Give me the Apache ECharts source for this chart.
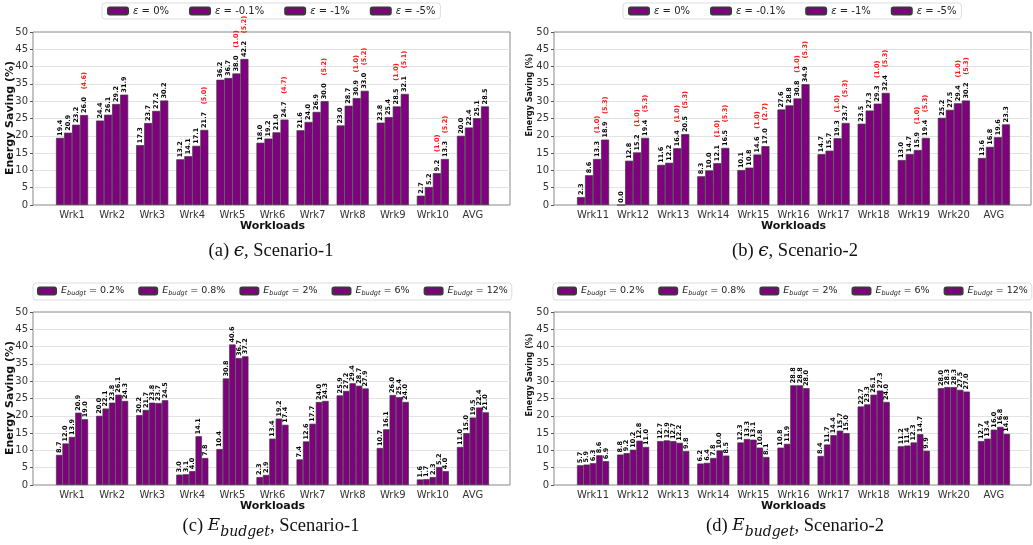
<!DOCTYPE html>
<html>
<head>
<meta charset="utf-8">
<script src="https://cdn.jsdelivr.net/npm/echarts@6/dist/echarts.min.js"></script>
<style>
  html, body { margin: 0; padding: 0; background: #fff; }
  #chart { width: 1033px; height: 545px; }
</style>
</head>
<body>
<div id="chart"></div>
<script>
// categories
const workloadsS1 = ['Wrk1', 'Wrk2', 'Wrk3', 'Wrk4', 'Wrk5', 'Wrk6', 'Wrk7', 'Wrk8', 'Wrk9', 'Wrk10', 'AVG']
const workloadsS2 = ['Wrk11', 'Wrk12', 'Wrk13', 'Wrk14', 'Wrk15', 'Wrk16', 'Wrk17', 'Wrk18', 'Wrk19', 'Wrk20', 'AVG']
const epsNames = ['ε = 0%', 'ε = -0.1%', 'ε = -1%', 'ε = -5%']
const budgetNames = ['Ebudgt = 0.2%', 'Ebudgt = 0.8%', 'Ebudgt = 2%', 'Ebudgt = 6%', 'Ebudgt = 12%']
const yTicks = [0, 50, 5] // min, max, interval

// (a) epsilon, scenario-1
const epsS1_0 = [19.4, 24.4, 17.3, 13.2, 36.2, 18.0, 21.6, 23.0, 23.8, 2.7, 20.0]
const epsS1_01 = [20.9, 26.1, 23.7, 14.1, 36.7, 19.2, 24.0, 28.7, 25.4, 5.2, 22.4]
const epsS1_1 = [23.2, 29.2, 27.2, 17.1, 38.0, 21.0, 26.9, 30.9, 28.5, 9.2, 25.1]
const epsS1_5 = [26.0, 31.9, 30.2, 21.7, 42.2, 24.7, 30.0, 33.0, 32.1, 13.3, 28.5]
const epsS1Note1 = [null, null, null, null, 1.0, null, null, 1.0, 1.0, 1.0, null]
const epsS1Note5 = [4.6, null, null, 5.0, 5.2, 4.7, 5.2, 5.2, 5.1, 5.2, null]

// (b) epsilon, scenario-2
const epsS2_0 = [2.3, 0.0, 11.6, 8.3, 10.1, 27.6, 14.7, 23.5, 13.0, 25.2, 13.6]
const epsS2_01 = [8.6, 12.8, 12.2, 10.0, 10.8, 28.8, 15.7, 27.3, 14.7, 27.5, 16.8]
const epsS2_1 = [13.3, 15.2, 16.4, 12.1, 14.6, 30.8, 19.3, 29.3, 15.9, 29.4, 19.6]
const epsS2_5 = [18.9, 19.4, 20.5, 16.5, 17.0, 34.9, 23.7, 32.4, 19.4, 30.2, 23.3]
const epsS2Note1 = [1.0, 1.0, 1.0, 1.0, 1.0, 1.0, 1.0, 1.0, 1.0, 1.0, null]
const epsS2Note5 = [5.3, 5.3, 5.3, 5.3, 2.7, 5.3, 5.3, 5.3, 5.3, 5.3, null]

// (c) E_budget, scenario-1
const budS1_02 = [8.7, 20.0, 20.2, 3.0, 10.4, 2.3, 7.4, 25.9, 10.7, 1.6, 11.0]
const budS1_08 = [12.0, 22.1, 21.7, 3.1, 30.8, 2.9, 12.6, 27.2, 16.1, 1.7, 15.0]
const budS1_2 = [13.9, 23.8, 23.8, 4.0, 40.6, 13.4, 17.7, 29.4, 26.0, 2.3, 19.5]
const budS1_6 = [20.9, 26.1, 23.7, 14.1, 36.7, 19.2, 24.0, 28.7, 25.4, 5.2, 22.4]
const budS1_12 = [19.0, 24.3, 24.5, 7.8, 37.2, 17.4, 24.3, 27.9, 24.0, 4.0, 21.0]

// (d) E_budget, scenario-2
const budS2_02 = [5.7, 8.8, 12.7, 6.2, 12.3, 10.8, 8.4, 22.7, 11.2, 28.0, 12.7]
const budS2_08 = [5.9, 9.2, 12.9, 6.4, 13.3, 11.9, 11.7, 23.3, 11.4, 28.3, 13.4]
const budS2_2 = [6.3, 10.2, 12.7, 7.8, 13.1, 28.8, 14.4, 26.1, 12.3, 28.3, 16.0]
const budS2_6 = [8.6, 12.8, 12.2, 10.0, 10.8, 28.8, 15.7, 27.3, 14.7, 27.5, 16.8]
const budS2_12 = [6.9, 11.0, 9.8, 8.5, 8.1, 28.0, 15.0, 24.0, 9.9, 27.0, 14.8]

const PURPLE = '#800080'
const chart = echarts.init(document.getElementById('chart'))

const panels = [
  { left: 33, top: 32, cats: workloadsS1, names: epsNames, data: [epsS1_0, epsS1_01, epsS1_1, epsS1_5], notes: [null, null, epsS1Note1, epsS1Note5] },
  { left: 554, top: 32, cats: workloadsS2, names: epsNames, data: [epsS2_0, epsS2_01, epsS2_1, epsS2_5], notes: [null, null, epsS2Note1, epsS2Note5] },
  { left: 33, top: 312, cats: workloadsS1, names: budgetNames, data: [budS1_02, budS1_08, budS1_2, budS1_6, budS1_12], notes: [] },
  { left: 554, top: 312, cats: workloadsS2, names: budgetNames, data: [budS2_02, budS2_08, budS2_2, budS2_6, budS2_12], notes: [] }
]

const grid = []
const xAxis = []
const yAxis = []
const series = []

panels.forEach((p, i) => {
  // frame + y axis
  grid.push({ left: p.left, top: p.top, width: 477, height: 173, show: true, borderColor: '#888', borderWidth: 1 })
  xAxis.push({ type: 'value', gridIndex: 2 * i, show: false, min: 0, max: 1 })
  yAxis.push({
    type: 'value', gridIndex: 2 * i, min: yTicks[0], max: yTicks[1], interval: yTicks[2],
    axisLine: { show: false },
    axisTick: { show: true, length: 3, lineStyle: { color: '#555' } },
    axisLabel: { fontSize: 10, color: '#333', margin: 5 },
    splitLine: { show: true, showMinLine: false, showMaxLine: false, lineStyle: { color: '#e3e3e3' } }
  })
  // bars
  grid.push({ left: p.left + 19, top: p.top, width: 441, height: 173 })
  xAxis.push({
    type: 'category', gridIndex: 2 * i + 1, data: p.cats,
    axisLine: { show: false }, axisTick: { show: false },
    axisLabel: { fontSize: 10, color: '#333', margin: 5, interval: 0 },
    name: 'Workloads', nameLocation: 'middle', nameGap: 14,
    nameTextStyle: { fontSize: 11, fontWeight: 'bold', color: '#111' }
  })
  yAxis.push({ type: 'value', gridIndex: 2 * i + 1, min: yTicks[0], max: yTicks[1], show: false })

  p.data.forEach((vals, k) => {
    const note = p.notes[k]
    series.push({
      name: p.names[k],
      type: 'bar',
      xAxisIndex: 2 * i + 1,
      yAxisIndex: 2 * i + 1,
      data: vals,
      barGap: '0%',
      barCategoryGap: '20%',
      itemStyle: { color: PURPLE, borderColor: '#3a3a3a', borderWidth: 0.7 },
      label: {
        show: true,
        position: 'top',
        distance: 2,
        rotate: 90,
        align: 'left',
        verticalAlign: 'middle',
        formatter: (d) => {
          const v = '{v|' + vals[d.dataIndex].toFixed(1) + '}'
          if (note && note[d.dataIndex] != null) {
            return v + '  {r|(' + note[d.dataIndex].toFixed(1) + ')}'
          }
          return v
        },
        rich: {
          v: { fontSize: 6.5, fontWeight: 'bold', color: '#000', fontFamily: 'DejaVu Sans' },
          r: { fontSize: 6.5, fontWeight: 'bold', color: '#ff1a1a', fontFamily: 'DejaVu Sans' }
        }
      }
    })
  })
})

const legendBase = {
  itemHeight: 7,
  borderColor: '#ddd',
  borderWidth: 1,
  borderRadius: 3,
  width: 500,
  textStyle: {
    fontSize: 10, color: '#222', fontFamily: 'DejaVu Sans',
    rich: {
      i: { fontSize: 10, fontStyle: 'italic', fontFamily: 'DejaVu Sans', color: '#222' },
      e: { fontSize: 9.5, fontStyle: 'italic', fontFamily: 'DejaVu Sans', color: '#222' },
      s: { fontSize: 6.5, fontStyle: 'italic', fontFamily: 'DejaVu Sans', color: '#222', padding: [5, 0, 0, 0] },
      t: { fontSize: 9.5, color: '#222', fontFamily: 'DejaVu Sans' }
    }
  },
  formatter: (n) => n.indexOf('Ebudgt') === 0
    ? '{e|E}{s|budgt}{t|' + n.slice(6) + '}'
    : n.replace('ε', '{i|ε}')
}

const legend = [
  Object.assign({}, legendBase, { data: epsNames, left: 102, top: 3, padding: [3, 5], itemWidth: 20, itemGap: 20 }),
  Object.assign({}, legendBase, { data: epsNames, left: 623, top: 3, padding: [3, 5], itemWidth: 20, itemGap: 20 }),
  Object.assign({}, legendBase, { data: budgetNames, left: 33, top: 283, padding: [3, 4], itemWidth: 18, itemGap: 14 }),
  Object.assign({}, legendBase, { data: budgetNames, left: 553, top: 283, padding: [3, 4], itemWidth: 18, itemGap: 14 })
]

const capStyle = {
  fontSize: 18.5, fontWeight: 'normal', color: '#111', fontFamily: 'Liberation Serif',
  rich: {
    g: { fontSize: 18.5, fontStyle: 'italic', fontFamily: 'DejaVu Serif', color: '#111' },
    e: { fontSize: 17, fontStyle: 'italic', fontFamily: 'DejaVu Serif', color: '#111' },
    s: { fontSize: 14, fontStyle: 'italic', fontFamily: 'DejaVu Serif', color: '#111', padding: [12, 0, 0, 0] }
  }
}

const title = [
  { text: '(a) {g|ϵ}, Scenario-1', left: 266, top: 237, textAlign: 'center', textStyle: capStyle },
  { text: '(b) {g|ϵ}, Scenario-2', left: 790, top: 237, textAlign: 'center', textStyle: capStyle },
  { text: '(c) {e|E}{s|budget}, Scenario-1', left: 266, top: 508, textAlign: 'center', textStyle: capStyle },
  { text: '(d) {e|E}{s|budget}, Scenario-2', left: 790, top: 508, textAlign: 'center', textStyle: capStyle }
]

const yName = (x, y, size) => ({
  type: 'text', x: x, y: y, rotation: Math.PI / 2,
  style: { text: 'Energy Saving (%)', fontSize: size, fontWeight: 'bold', fontFamily: 'DejaVu Sans', fill: '#111', textAlign: 'center', textVerticalAlign: 'middle' }
})

chart.setOption({
  animation: false,
  textStyle: { fontFamily: 'DejaVu Sans' },
  title: title,
  legend: legend,
  grid: grid,
  xAxis: xAxis,
  yAxis: yAxis,
  series: series,
  graphic: [yName(10, 118, 11), yName(530, 95, 8), yName(10, 398, 11), yName(530, 375, 8)]
})
</script>
</body>
</html>
